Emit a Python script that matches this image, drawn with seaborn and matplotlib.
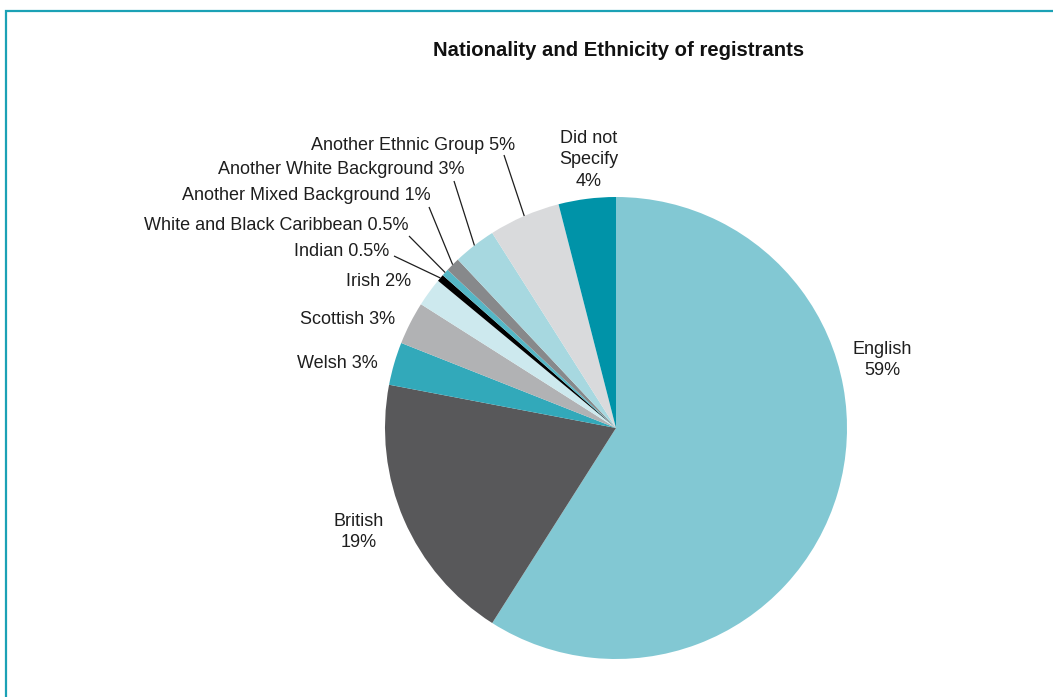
import numpy as np
import matplotlib
matplotlib.use("Agg")
import matplotlib.pyplot as plt
from matplotlib.patches import Rectangle
import seaborn as sns

# Registrant breakdown (percent), clockwise from 12 o'clock
categories = [
    "English", "British", "Welsh", "Scottish", "Irish", "Indian",
    "White and Black Caribbean", "Another Mixed Background",
    "Another White Background", "Another Ethnic Group", "Did not Specify",
]
shares = [59, 19, 3, 3, 2, 0.5, 0.5, 1, 3, 5, 4]
label_texts = [
    "English\n59%", "British\n19%", "Welsh 3%", "Scottish 3%", "Irish 2%",
    "Indian 0.5%", "White and Black Caribbean 0.5%",
    "Another Mixed Background 1%", "Another White Background 3%",
    "Another Ethnic Group 5%", "Did not\nSpecify\n4%",
]
slice_colors = [
    "#82C8D3", "#58585A", "#32A9BA", "#B1B2B4", "#CDE9EE", "#000000",
    "#55B7C6", "#87898B", "#A7D8E0", "#D9DADC", "#0093A8",
]

sns.set_theme(style="white")
plt.rcParams["font.family"] = ["Liberation Sans", "DejaVu Sans"]

W, H = 1053, 697
fig = plt.figure(figsize=(W / 100, H / 100), dpi=100)
fig.patch.set_facecolor("white")
ax = fig.add_axes([0, 0, 1, 1])


def px(x, y):
    """Figure pixel (top-left origin) -> data coords."""
    return x, H - y


cx, cy = px(616, 428)
R = 231
palette = sns.color_palette(slice_colors)
wedges, _ = ax.pie(
    shares, colors=palette, startangle=90, counterclock=False,
    center=(cx, cy), radius=R, frame=True,
    wedgeprops=dict(linewidth=0),
)
ax.set_xlim(0, W)
ax.set_ylim(0, H)
ax.set_aspect("equal")
ax.axis("off")

txt_kw = dict(fontsize=13, color="#1e1e1e", linespacing=1.38)

# label anchor (pixel), alignment, leader-line start (pixel) or None
label_layout = {
    "English": ((882, 360), "center", None),
    "British": ((359, 532), "center", None),
    "Welsh": ((378, 364), "right", None),
    "Scottish": ((395, 319), "right", None),
    "Irish": ((411, 282), "right", None),
    "Indian": ((389, 252), "right", (394, 256)),
    "White and Black Caribbean": ((409, 225), "right", (409, 236)),
    "Another Mixed Background": ((431, 196), "right", (429, 207)),
    "Another White Background": ((464, 170), "right", (454, 181)),
    "Another Ethnic Group": ((515, 146), "right", (504, 155)),
    "Did not Specify": ((589, 160), "center", None),
}

for cat, text, w in zip(categories, label_texts, wedges):
    (lx, ly), ha, lead = label_layout[cat]
    ax.text(*px(lx, ly), text, ha=ha, va="center", multialignment="center", **txt_kw)
    if lead is not None:
        mid = np.deg2rad((w.theta1 + w.theta2) / 2)
        ex, ey = cx + R * np.cos(mid), cy + R * np.sin(mid)
        sx, sy = px(*lead)
        ax.plot([sx, ex], [sy, ey], color="#1e1e1e", lw=0.9, solid_capstyle="butt")

ax.text(*px(619, 50), "Nationality and Ethnicity of registrants",
        ha="center", va="center", fontsize=14.6, fontweight="bold", color="#111111")

# teal frame, open on the right and bottom edges of the canvas
fig.patches.append(Rectangle((6 / W, -0.05), 1.1, (H - 11) / H + 0.05,
                             transform=fig.transFigure, fill=False,
                             edgecolor="#1BA1B5", linewidth=1.6, zorder=10))

fig.savefig("out.png", dpi=100, facecolor="white")
